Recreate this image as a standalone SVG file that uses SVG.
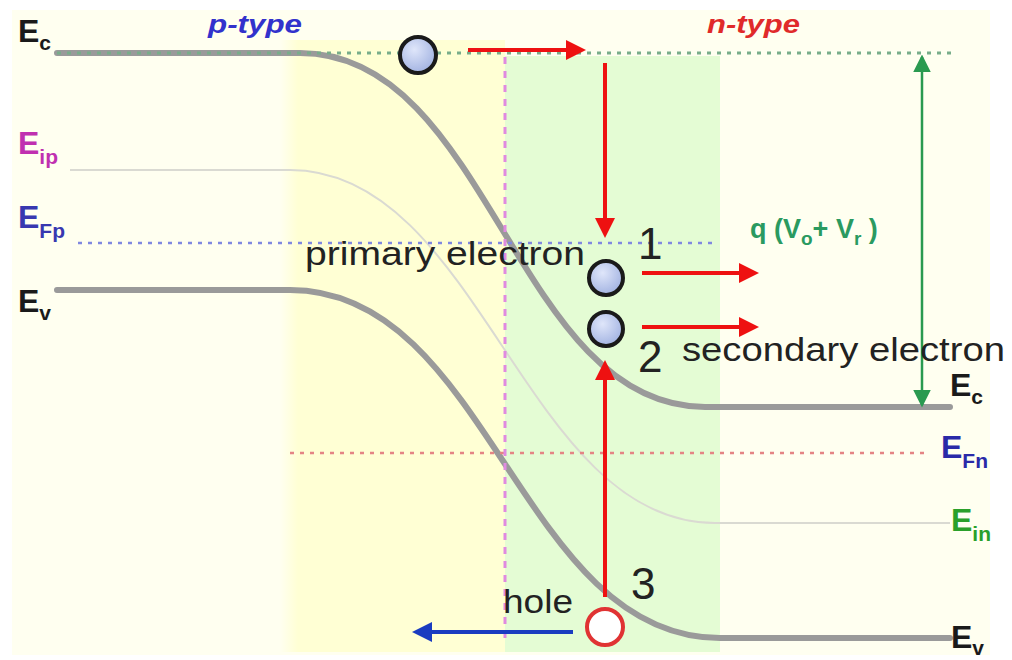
<svg xmlns="http://www.w3.org/2000/svg" width="1012" height="660" viewBox="0 0 1012 660">
<defs>
<linearGradient id="ygrad" x1="0" x2="1" y1="0" y2="0">
<stop offset="0" stop-color="#fffff0"/>
<stop offset="0.08" stop-color="#ffffd4"/>
<stop offset="1" stop-color="#ffffd4"/>
</linearGradient>
<radialGradient id="eball" cx="0.4" cy="0.35" r="0.7">
<stop offset="0" stop-color="#dfe6fa"/>
<stop offset="1" stop-color="#9fb0e0"/>
</radialGradient>
<marker id="redHead" markerWidth="5" markerHeight="5" refX="4" refY="2.5" orient="auto" markerUnits="strokeWidth">
<path d="M0,0 L5,2.5 L0,5 z" fill="#ee1111"/>
</marker>
<marker id="blueHead" markerWidth="5" markerHeight="5" refX="4" refY="2.5" orient="auto" markerUnits="strokeWidth">
<path d="M0,0 L5,2.5 L0,5 z" fill="#1a3cc0"/>
</marker>
<marker id="greenHead" markerWidth="7" markerHeight="7" refX="6" refY="3.5" orient="auto" markerUnits="strokeWidth">
<path d="M0,0 L7,3.5 L0,7 z" fill="#2a9a50"/>
</marker>
<marker id="greenStart" markerWidth="7" markerHeight="7" refX="1" refY="3.5" orient="auto" markerUnits="strokeWidth">
<path d="M7,0 L0,3.5 L7,7 z" fill="#2a9a50"/>
</marker>
</defs>
<style>
.band{fill:none;stroke:#9a9a9a;stroke-width:6;stroke-linecap:round}
.intr{fill:none;stroke:#dadad2;stroke-width:2}
.lbl{font-family:"Liberation Sans",Arial,sans-serif;font-weight:bold}
.txt{font-family:"Liberation Sans",Arial,sans-serif;fill:#222}
.num{font-family:"Liberation Sans",Arial,sans-serif;fill:#222;font-size:44px}
.ball{fill:url(#eball);stroke:#1a1a1a;stroke-width:4}
.redarrow{stroke:#ee1111;stroke-width:4;fill:none}
</style>

<!-- background regions -->
<rect x="12" y="10" width="978" height="645" fill="#fffff0"/>
<rect x="280" y="40" width="225" height="612" fill="url(#ygrad)"/>
<rect x="505" y="56" width="215" height="596" fill="#e4fcd4"/>

<!-- band diagram lines -->
<g id="bands">
<path class="intr" d="M70,170 L290,170 C480,170 525,523 715,523 L950,523"/>
<path class="band" d="M57,53 L300,53 C490,53 515,407 705,407 L950,407"/>
<path class="band" d="M57,290 L290,290 C490,290 520,638 720,638 L950,638"/>
<line x1="57" y1="53" x2="953" y2="53" stroke="#78ad8a" stroke-width="3" stroke-dasharray="4 6"/>
<line x1="78" y1="243" x2="718" y2="243" stroke="#8088e0" stroke-width="2.5" stroke-dasharray="4 6"/>
<line x1="290" y1="453" x2="930" y2="453" stroke="#e48484" stroke-width="2.5" stroke-dasharray="4 6"/>
<line x1="505" y1="57" x2="505" y2="645" stroke="#e08ae0" stroke-width="3" stroke-dasharray="7 7"/>
</g>

<!-- connectors -->
<g id="connectors">
<line class="redarrow" x1="468" y1="50" x2="582" y2="50" marker-end="url(#redHead)"/>
<line class="redarrow" x1="605" y1="63" x2="605" y2="234" marker-end="url(#redHead)"/>
<line class="redarrow" x1="642" y1="273" x2="755" y2="273" marker-end="url(#redHead)"/>
<line class="redarrow" x1="642" y1="327" x2="755" y2="327" marker-end="url(#redHead)"/>
<line class="redarrow" x1="605" y1="597" x2="605" y2="364" marker-end="url(#redHead)"/>
<line x1="573" y1="632" x2="416" y2="632" stroke="#1a3cc0" stroke-width="4" marker-end="url(#blueHead)"/>
<line x1="922" y1="57" x2="922" y2="405" stroke="#2a9a50" stroke-width="2.5" marker-start="url(#greenStart)" marker-end="url(#greenHead)"/>
</g>

<!-- particles -->
<g id="electron-top"><circle class="ball" cx="418" cy="55" r="18"/></g>
<g id="electron-1"><circle class="ball" cx="606" cy="278" r="17"/></g>
<g id="electron-2"><circle class="ball" cx="606" cy="329" r="17"/></g>
<g id="hole"><circle cx="605" cy="627" r="18" fill="#ffffff" stroke="#e03333" stroke-width="4"/></g>

<!-- labels -->
<g id="labels-left">
<text class="lbl" x="18" y="42" font-size="32" fill="#1a1a1a">E<tspan font-size="21" dy="8">c</tspan></text>
<text class="lbl" x="18" y="154" font-size="32" fill="#c030b0">E<tspan font-size="21" dy="10">ip</tspan></text>
<text class="lbl" x="18" y="228" font-size="32" fill="#3838b0">E<tspan font-size="21" dy="10">Fp</tspan></text>
<text class="lbl" x="18" y="312" font-size="32" fill="#1a1a1a">E<tspan font-size="21" dy="8">v</tspan></text>
</g>
<g id="labels-right">
<text class="lbl" x="950" y="396" font-size="32" fill="#1a1a1a">E<tspan font-size="21" dy="8">c</tspan></text>
<text class="lbl" x="941" y="458" font-size="32" fill="#2a2aa8">E<tspan font-size="21" dy="10">Fn</tspan></text>
<text class="lbl" x="951" y="531" font-size="32" fill="#2aa02a">E<tspan font-size="21" dy="10">in</tspan></text>
<text class="lbl" x="951" y="648" font-size="32" fill="#1a1a1a">E<tspan font-size="21" dy="7">v</tspan></text>
</g>
<g id="labels-region">
<text class="lbl" x="208" y="33" font-size="26" font-style="italic" fill="#3232cc" textLength="94" lengthAdjust="spacingAndGlyphs">p-type</text>
<text class="lbl" x="707" y="33" font-size="26" font-style="italic" fill="#e02a2a" textLength="93" lengthAdjust="spacingAndGlyphs">n-type</text>
<text class="lbl" x="750" y="238" font-size="27" fill="#2a9a60">q (V<tspan font-size="19" dy="7">o</tspan><tspan dy="-7">+ V</tspan><tspan font-size="19" dy="7">r</tspan><tspan dy="-7"> )</tspan></text>
</g>
<g id="labels-process">
<text class="txt" x="305" y="265" font-size="33" textLength="280" lengthAdjust="spacingAndGlyphs">primary electron</text>
<text class="txt" x="682" y="361" font-size="33" textLength="323" lengthAdjust="spacingAndGlyphs">secondary electron</text>
<text class="txt" x="503" y="613" font-size="33" textLength="70" lengthAdjust="spacingAndGlyphs">hole</text>
<text class="num" x="638" y="259">1</text>
<text class="num" x="638" y="372">2</text>
<text class="num" x="631" y="599">3</text>
</g>
</svg>
